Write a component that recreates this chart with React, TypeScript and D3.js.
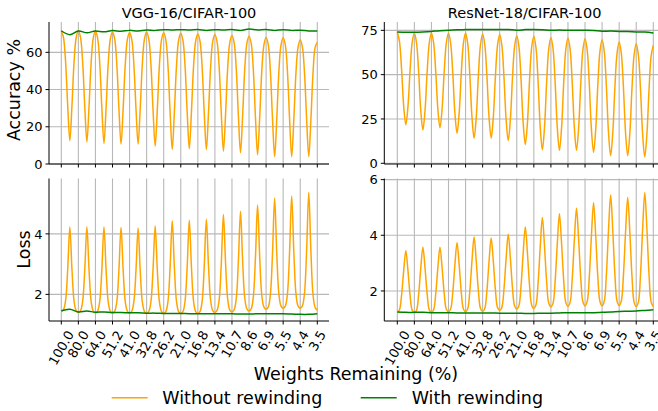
import React from "react";
import * as d3 from "d3";

// ---------- data ----------
const WEIGHTS_REMAINING = ["100.0", "80.0", "64.0", "51.2", "41.0", "32.8", "26.2", "21.0", "16.8", "13.4", "10.7", "8.6", "6.9", "5.5", "4.4", "3.5"];
const TITLES = ["VGG-16/CIFAR-100", "ResNet-18/CIFAR-100"];
const SERIES_NAMES = ["Without rewinding", "With rewinding"];
const X_LABEL = "Weights Remaining (%)";
const Y_LABELS = ["Accuracy %", "Loss"];

// samples per round: 8 for "without rewinding", 2 for "with rewinding"
const ORANGE_STEP = 1 / 8;
const GREEN_STEP = 1 / 2;

const vggAccWithout = [
  71.6, 68.1, 55.1, 31.4, 12.5, 31.4, 55.1, 68.1,
  71.6, 68.0, 54.9, 30.9, 11.8, 30.9, 54.7, 67.8,
  71.4, 67.8, 54.5, 30.3, 11.0, 30.2, 54.1, 67.3,
  70.9, 67.3, 54.0, 30.0, 10.7, 29.9, 53.9, 67.1,
  70.7, 67.1, 53.9, 29.9, 10.7, 30.0, 54.0, 67.3,
  70.9, 67.2, 53.7, 29.2, 9.6, 29.1, 53.4, 66.8,
  70.5, 66.7, 52.9, 27.9, 7.8, 27.8, 52.7, 66.5,
  70.2, 66.5, 52.8, 28.0, 8.2, 27.9, 52.6, 66.1,
  69.8, 66.1, 52.4, 27.6, 7.8, 27.6, 52.3, 65.9,
  69.6, 65.8, 52.0, 27.0, 6.9, 26.8, 51.7, 65.4,
  69.1, 65.3, 51.4, 26.2, 6.0, 26.1, 51.1, 64.9,
  68.7, 64.9, 50.9, 25.4, 5.0, 25.2, 50.4, 64.2,
  68.0, 64.2, 50.1, 24.4, 3.9, 24.3, 49.9, 64.0,
  67.8, 64.0, 49.9, 24.3, 3.9, 24.0, 49.1, 62.9,
  66.7, 62.9, 49.1, 24.0, 3.9, 23.9, 49.0, 62.7,
  65.3,
];
const vggAccWith = [
  71.6, 69.5, 71.5, 70.5, 71.5, 71.0, 71.7, 71.3, 71.8, 71.5, 72.0, 71.8, 72.2, 72.0, 72.2, 72.0,
  72.3, 71.8, 72.2, 72.0, 72.3, 71.8, 72.5, 72.0, 72.3, 71.8, 72.2, 71.8, 71.9, 71.5, 71.4,
];
const resnetAccWithout = [
  74.1, 68.9, 53.1, 32.2, 21.7, 32.1, 52.8, 68.3,
  73.5, 68.0, 51.7, 29.8, 18.9, 29.8, 51.7, 68.0,
  73.5, 68.1, 52.1, 30.7, 20.0, 30.7, 52.1, 68.1,
  73.5, 67.8, 50.9, 28.3, 17.0, 28.3, 50.9, 67.8,
  73.5, 67.6, 49.8, 26.1, 14.2, 25.9, 49.4, 67.0,
  72.9, 67.0, 49.4, 25.9, 14.2, 25.9, 49.2, 66.8,
  72.6, 66.6, 48.7, 24.8, 12.9, 24.7, 48.4, 66.1,
  72.0, 65.9, 47.4, 22.9, 10.6, 22.8, 47.2, 65.5,
  71.6, 65.2, 46.0, 20.4, 7.6, 20.3, 45.6, 64.7,
  71.0, 64.6, 45.5, 20.0, 7.3, 20.0, 45.3, 64.4,
  70.7, 64.4, 45.3, 20.0, 7.3, 19.9, 45.1, 64.0,
  70.3, 63.9, 44.7, 19.0, 6.2, 18.9, 44.3, 63.3,
  69.7, 63.2, 43.5, 17.4, 4.3, 17.1, 42.8, 62.0,
  68.4, 62.0, 42.8, 17.1, 4.3, 16.9, 42.2, 61.1,
  67.4, 61.0, 41.9, 16.4, 3.6, 16.3, 41.6, 60.7,
  66.5,
];
const resnetAccWith = [
  74.1, 73.9, 73.9, 74.1, 74.4, 74.8, 75.0, 75.3, 75.4, 75.5, 75.4, 75.5, 75.4, 75.5, 75.1, 75.4,
  75.4, 75.3, 75.0, 75.2, 75.0, 75.1, 75.0, 74.9, 74.5, 74.6, 74.4, 74.3, 74.1, 74.0, 73.5,
];
const vggLossWithout = [
  1.43, 1.49, 1.79, 2.83, 4.23, 2.82, 1.77, 1.46,
  1.40, 1.46, 1.77, 2.82, 4.23, 2.81, 1.76, 1.45,
  1.39, 1.45, 1.76, 2.81, 4.23, 2.81, 1.75, 1.44,
  1.38, 1.44, 1.75, 2.80, 4.21, 2.80, 1.75, 1.44,
  1.38, 1.44, 1.75, 2.79, 4.19, 2.78, 1.74, 1.43,
  1.37, 1.43, 1.75, 2.82, 4.26, 2.82, 1.75, 1.43,
  1.37, 1.43, 1.77, 2.90, 4.43, 2.90, 1.77, 1.43,
  1.37, 1.43, 1.77, 2.91, 4.45, 2.91, 1.77, 1.43,
  1.37, 1.43, 1.77, 2.93, 4.48, 2.94, 1.80, 1.46,
  1.40, 1.47, 1.82, 3.02, 4.64, 3.03, 1.84, 1.48,
  1.42, 1.49, 1.85, 3.09, 4.75, 3.10, 1.88, 1.52,
  1.45, 1.52, 1.91, 3.20, 4.95, 3.23, 1.96, 1.58,
  1.51, 1.58, 1.99, 3.35, 5.18, 3.36, 2.01, 1.61,
  1.54, 1.61, 2.02, 3.40, 5.25, 3.40, 2.02, 1.61,
  1.54, 1.62, 2.04, 3.46, 5.37, 3.43, 1.99, 1.56,
  1.48,
];
const vggLossWith = [
  1.46, 1.51, 1.42, 1.45, 1.41, 1.42, 1.40, 1.40, 1.39, 1.39, 1.38, 1.38, 1.37, 1.37, 1.37, 1.36,
  1.36, 1.36, 1.36, 1.36, 1.36, 1.35, 1.35, 1.36, 1.36, 1.36, 1.36, 1.35, 1.34, 1.34, 1.36,
];
const resnetLossWithout = [
  1.23, 1.32, 1.85, 2.73, 3.44, 2.73, 1.83, 1.30,
  1.21, 1.30, 1.87, 2.82, 3.57, 2.82, 1.89, 1.32,
  1.23, 1.32, 1.89, 2.82, 3.57, 2.83, 1.90, 1.34,
  1.25, 1.35, 1.95, 2.94, 3.74, 2.94, 1.95, 1.35,
  1.25, 1.36, 2.00, 3.08, 3.94, 3.08, 2.01, 1.37,
  1.26, 1.37, 2.00, 3.06, 3.90, 3.07, 2.03, 1.40,
  1.30, 1.41, 2.07, 3.16, 4.04, 3.18, 2.10, 1.46,
  1.35, 1.47, 2.18, 3.36, 4.30, 3.36, 2.19, 1.49,
  1.37, 1.50, 2.29, 3.59, 4.64, 3.61, 2.33, 1.56,
  1.43, 1.56, 2.37, 3.70, 4.77, 3.71, 2.38, 1.58,
  1.45, 1.59, 2.44, 3.84, 4.97, 3.85, 2.45, 1.61,
  1.47, 1.62, 2.51, 3.99, 5.17, 3.99, 2.51, 1.62,
  1.47, 1.63, 2.58, 4.18, 5.45, 4.18, 2.59, 1.64,
  1.48, 1.64, 2.57, 4.12, 5.36, 4.11, 2.54, 1.60,
  1.44, 1.60, 2.59, 4.23, 5.54, 4.23, 2.59, 1.60,
  1.44,
];
const resnetLossWith = [
  1.24, 1.23, 1.23, 1.23, 1.22, 1.22, 1.22, 1.21, 1.21, 1.21, 1.21, 1.21, 1.20, 1.20, 1.20, 1.19,
  1.19, 1.20, 1.20, 1.21, 1.22, 1.22, 1.22, 1.22, 1.23, 1.24, 1.26, 1.27, 1.28, 1.30, 1.32,
];

const Y_TICKS_VGG_ACC = [0, 20, 40, 60];
const Y_TICKS_RESNET_ACC = [0, 25, 50, 75];
const Y_TICKS_VGG_LOSS = [2, 4];
const Y_TICKS_RESNET_LOSS = [2, 4, 6];

// ---------- style ----------
const W = 658;
const H = 411;
const FONT = "DejaVu Sans, Verdana, sans-serif";
const ORANGE = "#FFA500";
const GREEN = "#008000";
const GRID = "#b8b8b8";
const TICK_FS = 13;

type PanelProps = {
  frame: { x0: number; x1: number; y0: number; y1: number; xa: number; xb: number };
  yDomain: [number, number];
  yTicks: number[];
  without: number[];
  withR: number[];
  showXLabels: boolean;
};

const charW = (s: string) => {
  let w = 0;
  for (const c of s) w += c === "." ? 0.318 : 0.636;
  return w * TICK_FS;
};

function Panel({ frame, yDomain, yTicks, without, withR, showXLabels }: PanelProps) {
  const { x0, x1, y0, y1, xa, xb } = frame;
  const x = d3.scaleLinear().domain([0, WEIGHTS_REMAINING.length - 1]).range([xa, xb]);
  const y = d3.scaleLinear().domain(yDomain).range([y1, y0]);
  const lineO = d3
    .line<number>()
    .x((_, i) => x(i * ORANGE_STEP))
    .y((d) => y(d))
    .curve(d3.curveCatmullRom.alpha(0.5));
  const lineG = d3
    .line<number>()
    .x((_, i) => x(i * GREEN_STEP))
    .y((d) => y(d))
    .curve(d3.curveCatmullRom.alpha(0.5));
  const tickLen = 3.5;
  const sin60 = Math.sin(Math.PI / 3);
  return (
    <g>
      {yTicks.map((t) => (
        <line key={"hg" + t} x1={x0} x2={x1} y1={y(t)} y2={y(t)} stroke={GRID} strokeWidth={1.1} />
      ))}
      {WEIGHTS_REMAINING.map((_, i) => (
        <line key={"vg" + i} x1={x(i)} x2={x(i)} y1={y0} y2={y1} stroke={GRID} strokeWidth={1.1} />
      ))}
      <path d={lineO(without) || ""} fill="none" stroke={ORANGE} strokeWidth={1.5} />
      <path d={lineG(withR) || ""} fill="none" stroke={GREEN} strokeWidth={1.5} />
      <line x1={x0} x2={x0} y1={y0} y2={y1} stroke="#000" strokeWidth={1} />
      <line x1={x0} x2={x1} y1={y1} y2={y1} stroke="#000" strokeWidth={1} />
      {yTicks.map((t) => (
        <g key={"yt" + t}>
          <line x1={x0 - tickLen} x2={x0} y1={y(t)} y2={y(t)} stroke="#000" strokeWidth={1} />
          <text x={x0 - 6.5} y={y(t)} dy="0.36em" textAnchor="end" fontSize={TICK_FS} fontFamily={FONT} fill="#000">
            {t}
          </text>
        </g>
      ))}
      {WEIGHTS_REMAINING.map((lab, i) => {
        const tx = x(i);
        const L = charW(lab);
        const bh = L * sin60 + 15.1 * 0.5;
        const cy = y1 + tickLen + 3.5 + bh / 2;
        return (
          <g key={"xt" + i}>
            <line x1={tx} x2={tx} y1={y1} y2={y1 + tickLen} stroke="#000" strokeWidth={1} />
            {showXLabels && (
              <text
                x={tx}
                y={cy}
                textAnchor="middle"
                dominantBaseline="central"
                transform={`rotate(-60, ${tx}, ${cy})`}
                fontSize={TICK_FS}
                fontFamily={FONT}
                fill="#000"
              >
                {lab}
              </text>
            )}
          </g>
        );
      })}
    </g>
  );
}

export default function App() {
  const left = { x0: 49, x1: 329, xa: 61.3, xb: 317.3 };
  const right = { x0: 384.3, x1: 665, xa: 397.3, xb: 653.3 };
  const top = { y0: 22, y1: 164 };
  const bot = { y0: 178.5, y1: 321 };
  return (
    <svg
      width={W}
      height={H}
      viewBox={`0 0 ${W} ${H}`}
      style={{ position: "absolute", left: 0, top: 0, background: "#fff" }}
      fontFamily={FONT}
    >
      <rect x={0} y={0} width={W} height={H} fill="#fff" />
      <Panel frame={{ ...left, ...top }} yDomain={[0, 76.3]} yTicks={Y_TICKS_VGG_ACC} without={vggAccWithout} withR={vggAccWith} showXLabels={false} />
      <Panel frame={{ ...right, ...top }} yDomain={[-0.4, 79.7]} yTicks={Y_TICKS_RESNET_ACC} without={resnetAccWithout} withR={resnetAccWith} showXLabels={false} />
      <Panel frame={{ ...left, ...bot }} yDomain={[1.12, 5.83]} yTicks={Y_TICKS_VGG_LOSS} without={vggLossWithout} withR={vggLossWith} showXLabels={true} />
      <Panel frame={{ ...right, ...bot }} yDomain={[0.92, 6.04]} yTicks={Y_TICKS_RESNET_LOSS} without={resnetLossWithout} withR={resnetLossWith} showXLabels={true} />

      <text x={189} y={18.3} textAnchor="middle" fontSize={14.5} fill="#000">{TITLES[0]}</text>
      <text x={524.7} y={18.3} textAnchor="middle" fontSize={14.5} fill="#000">{TITLES[1]}</text>

      <text transform="translate(19.5, 90) rotate(-90)" textAnchor="middle" fontSize={17.5} fill="#000">{Y_LABELS[0]}</text>
      <text transform="translate(30, 249.5) rotate(-90)" textAnchor="middle" fontSize={17.5} fill="#000">{Y_LABELS[1]}</text>

      <text x={356} y={380} textAnchor="middle" fontSize={17.5} fill="#000">{X_LABEL}</text>

      <line x1={111.7} x2={147.7} y1={397.7} y2={397.7} stroke={ORANGE} strokeWidth={1.5} />
      <text x={162.3} y={404.3} fontSize={17.5} fill="#000">{SERIES_NAMES[0]}</text>
      <line x1={360.7} x2={396.7} y1={397.7} y2={397.7} stroke={GREEN} strokeWidth={1.5} />
      <text x={411.7} y={404.3} fontSize={17.5} fill="#000">{SERIES_NAMES[1]}</text>
    </svg>
  );
}
